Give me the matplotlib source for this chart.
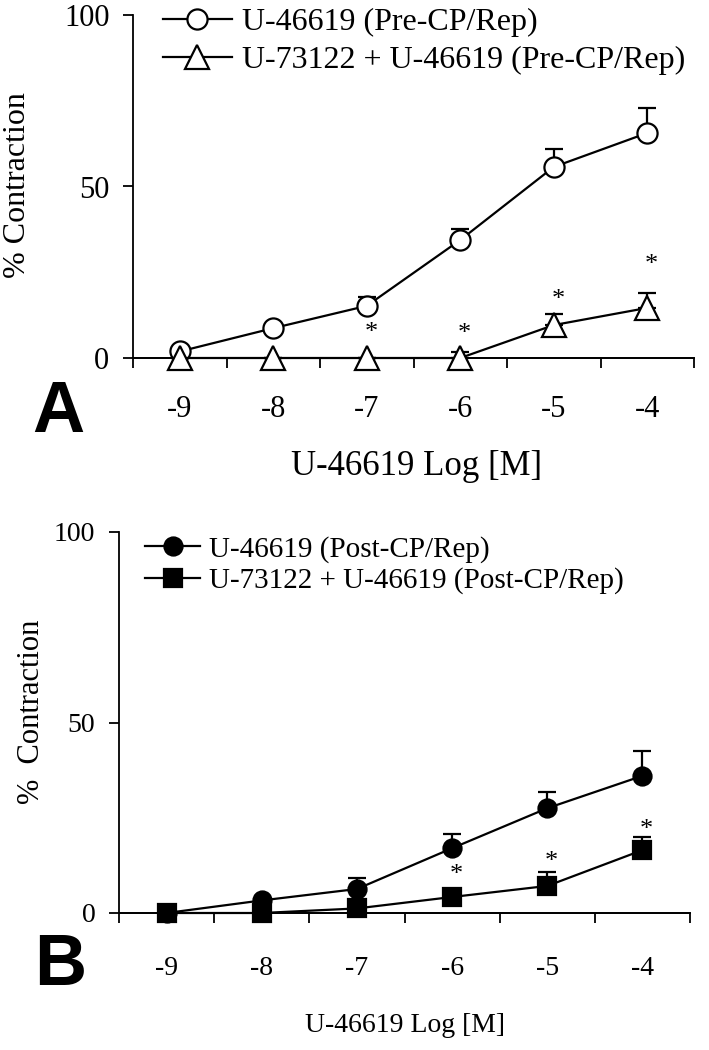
import matplotlib.pyplot as plt
import numpy as np

# log concentrations of U-46619
doses = [-9, -8, -7, -6, -5, -4]

# panel A (pre-CP/Rep)
a_ctrl = [1.9, 8.7, 15.2, 34.4, 55.7, 65.6]
a_ctrl_err = [0.0, 0.0, 2.6, 3.2, 5.2, 7.3]
a_u73 = [0.0, 0.0, 0.0, 0.0, 9.6, 14.6]
a_u73_err = [0.0, 0.0, 0.0, 1.8, 3.2, 4.3]
a_star_x = [-7, -6, -5, -4]
a_star_y = [9.2, 9.0, 18.9, 29.0]

# panel B (post-CP/Rep)
b_ctrl = [0.0, 3.3, 6.3, 17.0, 27.5, 36.0]
b_ctrl_err = [0.0, 0.0, 2.9, 3.7, 4.3, 6.5]
b_u73 = [0.0, 0.0, 1.2, 4.2, 7.1, 16.5]
b_u73_err = [0.0, 0.0, 0.0, 0.0, 3.7, 3.5]
b_star_x = [-6, -5, -4]
b_star_y = [11.8, 15.2, 23.6]

SERIF = ['Liberation Serif', 'DejaVu Serif']
SANS = ['Liberation Sans', 'DejaVu Sans']
W, H = 709, 1050

fig = plt.figure(figsize=(W / 100, H / 100), dpi=100)


def px_axes(x0, x1, y_top, y_bot):
    return fig.add_axes([x0 / W, 1 - y_bot / H, (x1 - x0) / W, (y_bot - y_top) / H])


def style_axes(ax, fs, pad_x):
    ax.set_xlim(-9.5, -3.5)
    ax.set_ylim(0, 100)
    for s in ['top', 'right']:
        ax.spines[s].set_visible(False)
    for s in ['left', 'bottom']:
        ax.spines[s].set_linewidth(1.3)
    ax.set_xticks(np.arange(-9.5, -3.4, 1))
    ax.set_xticklabels([])
    ax.set_xticks(doses, minor=True)
    ax.set_xticklabels([str(d) for d in doses], minor=True, family=SERIF, fontsize=fs)
    ax.tick_params(axis='x', which='major', direction='out', length=7, width=1.3)
    ax.tick_params(axis='x', which='minor', length=0, pad=pad_x)
    ax.set_yticks([0, 50, 100])
    ax.set_yticklabels(['0', '50', '100'], family=SERIF, fontsize=fs)
    ax.tick_params(axis='y', direction='out', length=7, width=1.3, pad=10)
    ax.axhline(0, color='black', lw=1.3, clip_on=False, zorder=1)


def series(ax, y, err, marker, face, ms, label):
    ax.errorbar(doses, y, yerr=[np.zeros(len(err)), err], color='black', lw=1.6,
                marker=marker, ms=ms, mfc=face, mec='black', mew=1.6,
                capsize=6.5, capthick=1.6, elinewidth=1.6, label=label,
                clip_on=False, zorder=3)


def stars(ax, xs, ys):
    for x, y in zip(xs, ys):
        ax.annotate('*', (x, y), xytext=(3, -9), textcoords='offset points',
                    ha='center', va='baseline', family=SERIF, fontsize=19)


# ---- panel A ----
axA = px_axes(133, 694, 15, 358)
style_axes(axA, 22, 27)
series(axA, a_ctrl, a_ctrl_err, 'o', 'white', 14.5, 'U-46619 (Pre-CP/Rep)')
series(axA, a_u73, a_u73_err, '^', 'white', 17, 'U-73122 + U-46619 (Pre-CP/Rep)')
stars(axA, a_star_x, a_star_y)
hA, lA = axA.get_legend_handles_labels()
axA.legend([h[0] for h in hA], lA, loc='upper left',
           bbox_to_anchor=(163 / W, 1 - 8 / H), bbox_transform=fig.transFigure,
           frameon=False, handlelength=2.15, handletextpad=0.33, labelspacing=0.25,
           borderpad=0, borderaxespad=0, prop={'family': SERIF, 'size': 23})

fig.text(18 / W, 1 - 185 / H, '% Contraction', rotation=90, ha='center', va='center',
         family=SERIF, fontsize=23)
fig.text(417 / W, 1 - 467 / H, 'U-46619 Log [M]', ha='center', va='center',
         family=SERIF, fontsize=25)
fig.text(58 / W, 1 - 413 / H, 'A', ha='center', va='center',
         family=SANS, fontweight='bold', fontsize=52)

# ---- panel B ----
axB = px_axes(119, 690, 532, 913)
style_axes(axB, 20, 31)
series(axB, b_ctrl, b_ctrl_err, 'o', 'black', 13, 'U-46619 (Post-CP/Rep)')
series(axB, b_u73, b_u73_err, 's', 'black', 13, 'U-73122 + U-46619 (Post-CP/Rep)')
stars(axB, b_star_x, b_star_y)
hB, lB = axB.get_legend_handles_labels()
axB.legend([h[0] for h in hB], lB, loc='upper left',
           bbox_to_anchor=(145 / W, 1 - 536 / H), bbox_transform=fig.transFigure,
           frameon=False, handlelength=1.9, handletextpad=0.28, labelspacing=0.15,
           borderpad=0, borderaxespad=0, prop={'family': SERIF, 'size': 21})

fig.text(32 / W, 1 - 712 / H, '%  Contraction', rotation=90, ha='center',
         va='center', family=SERIF, fontsize=22)
fig.text(405 / W, 1 - 1025 / H, 'U-46619 Log [M]', ha='center', va='center',
         family=SERIF, fontsize=20)
fig.text(60 / W, 1 - 966 / H, 'B', ha='center', va='center',
         family=SANS, fontweight='bold', fontsize=52)

fig.savefig('out.png', dpi=100)
